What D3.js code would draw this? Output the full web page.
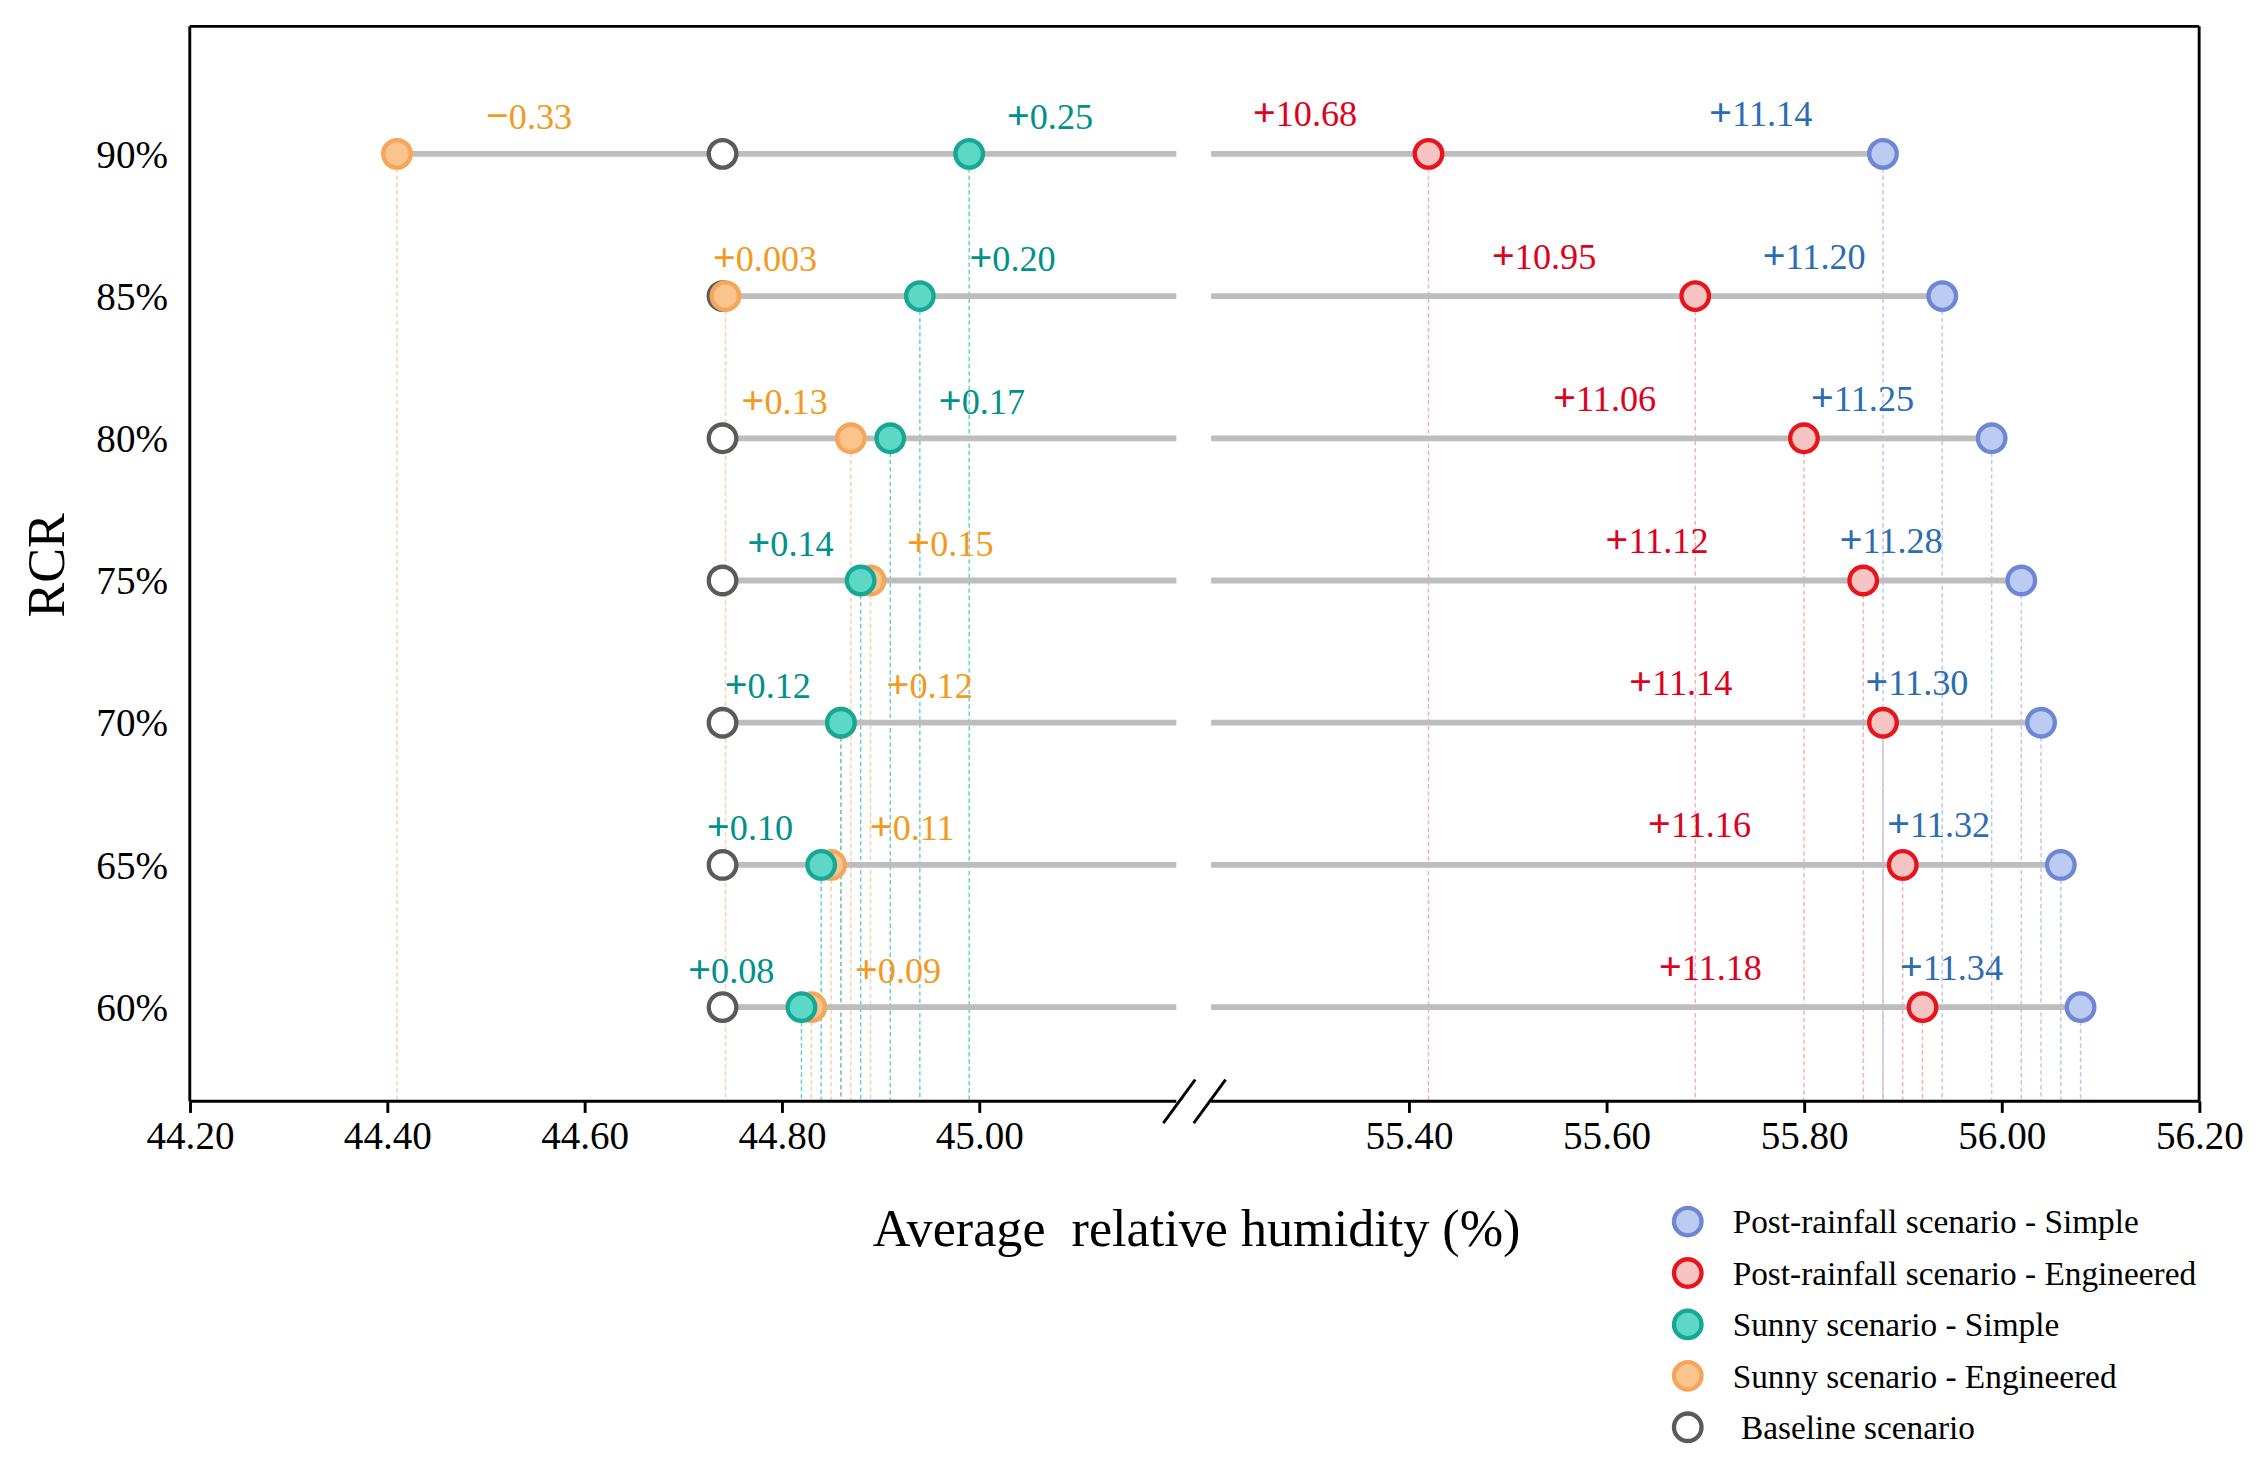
<!DOCTYPE html>
<html><head><meta charset="utf-8">
<script src="https://cdn.jsdelivr.net/npm/d3@7"></script>
<style>body{margin:0;background:#fff}svg{display:block}text{font-family:"Liberation Serif","DejaVu Serif",serif}</style>
</head><body><svg></svg>
<script>
const rcr = ["90%","85%","80%","75%","70%","65%","60%"];
const baseline = [44.74,44.74,44.74,44.74,44.74,44.74,44.74];
const sunnyEng = [44.41,44.743,44.87,44.89,44.86,44.85,44.83];
const sunnySimple = [44.99,44.94,44.91,44.88,44.86,44.84,44.82];
const postEng = [55.42,55.69,55.80,55.86,55.88,55.90,55.92];
const postSimple = [55.88,55.94,55.99,56.02,56.04,56.06,56.08];
const lblSunnyEng = ["−0.33","+0.003","+0.13","+0.15","+0.12","+0.11","+0.09"];
const lblSunnySimple = ["+0.25","+0.20","+0.17","+0.14","+0.12","+0.10","+0.08"];
const lblPostEng = ["+10.68","+10.95","+11.06","+11.12","+11.14","+11.16","+11.18"];
const lblPostSimple = ["+11.14","+11.20","+11.25","+11.28","+11.30","+11.32","+11.34"];
// label anchor positions in axis units
const posSunnyEng = [44.50,44.730,44.759,44.927,44.906,44.889,44.874];
const posSunnySimple = [45.028,44.990,44.959,44.765,44.742,44.724,44.705];
const posPostEng = [55.242,55.484,55.546,55.599,55.623,55.642,55.653];
const posPostSimple = [55.704,55.758,55.807,55.836,55.862,55.884,55.897];
const leftTicks = [44.2,44.4,44.6,44.8,45.0];
const rightTicks = [55.4,55.6,55.8,56.0,56.2];

const svg = d3.select("svg").attr("width",2260).attr("height",1458).attr("viewBox","0 0 1560 1006");
const L=131,R=1518,T=18,B=760;
const xl = d3.scaleLinear().domain([44.2,45.2]).range([L,812]);
const xr = d3.scaleLinear().domain([55.2,56.2]).range([836,R]);
const x = v => v < 50 ? xl(v) : xr(v);
const y = d3.scalePoint().domain(rcr).range([106,695]);

const series = [
  {vals:baseline, fill:"#fff", stroke:"#5a5a5a"},
  {vals:sunnyEng, fill:"#f9c48e", stroke:"#f6a55a", line:"#f9c48e", lbl:lblSunnyEng, pos:posSunnyEng, tc:"#f39a1e", dy:-17},
  {vals:sunnySimple, fill:"#5ed8c6", stroke:"#17a795", line:"#3cc6b4", lbl:lblSunnySimple, pos:posSunnySimple, tc:"#00918a", dy:-17},
  {vals:postEng, fill:"#f7c4c4", stroke:"#e8141c", line:"#f2a0a0", lbl:lblPostEng, pos:posPostEng, tc:"#e0001b", dy:-19},
  {vals:postSimple, fill:"#bccbf2", stroke:"#6f86d6", line:"#aab8ee", lbl:lblPostSimple, pos:posPostSimple, tc:"#2b6cb3", dy:-19}
];

series.slice(1).forEach(s=>{
  svg.append("g").selectAll("line").data(s.vals).join("line")
    .attr("x1",d=>x(d)).attr("x2",d=>x(d)).attr("y1",(d,i)=>y(rcr[i])).attr("y2",B)
    .attr("stroke",s.line).attr("stroke-width",1).attr("stroke-dasharray","3,2").attr("opacity",0.8);
});

const g = svg.append("g");
rcr.forEach((r,i)=>{
  g.append("line").attr("x1",x(Math.min(baseline[i],sunnyEng[i]))).attr("x2",xl(45.2))
   .attr("y1",y(r)).attr("y2",y(r)).attr("stroke","#bdbdbd").attr("stroke-width",4);
  g.append("line").attr("x1",xr(55.2)).attr("x2",x(postSimple[i]))
   .attr("y1",y(r)).attr("y2",y(r)).attr("stroke","#bdbdbd").attr("stroke-width",4);
});

series.forEach(s=>{
  svg.append("g").selectAll("circle").data(s.vals).join("circle")
    .attr("cx",d=>x(d)).attr("cy",(d,i)=>y(rcr[i])).attr("r",9.5)
    .attr("fill",s.fill).attr("stroke",s.stroke).attr("stroke-width",3);
});

series.slice(1).forEach(s=>{
  const t = svg.append("g").selectAll("text").data(s.lbl).join("text")
    .attr("x",(d,i)=>x(s.pos[i])).attr("y",(d,i)=>y(rcr[i])+s.dy)
    .attr("fill",s.tc).attr("font-size",25);
  t.append("tspan").attr("font-weight","bold").attr("font-size",28).text(d=>d[0]);
  t.append("tspan").text(d=>d.slice(1));
});

const ax = svg.append("g").attr("stroke","#000").attr("stroke-width",2);
ax.append("line").attr("x1",L).attr("x2",R).attr("y1",T).attr("y2",T);
ax.append("line").attr("x1",L).attr("x2",L).attr("y1",T).attr("y2",B);
ax.append("line").attr("x1",R).attr("x2",R).attr("y1",T).attr("y2",B);
ax.append("line").attr("x1",L).attr("x2",812).attr("y1",B).attr("y2",B);
ax.append("line").attr("x1",836).attr("x2",R).attr("y1",B).attr("y2",B);
ax.append("line").attr("x1",803).attr("x2",825).attr("y1",775).attr("y2",745);
ax.append("line").attr("x1",824).attr("x2",846).attr("y1",775).attr("y2",745);

const fmt = d3.format(".2f");
svg.append("g").attr("transform",`translate(0,${B})`).call(d3.axisBottom(xl).tickValues(leftTicks).tickFormat(fmt).tickSize(8).tickSizeOuter(0));
svg.append("g").attr("transform",`translate(0,${B})`).call(d3.axisBottom(xr).tickValues(rightTicks).tickFormat(fmt).tickSize(8).tickSizeOuter(0));
svg.selectAll(".domain").remove();
svg.selectAll(".tick line").attr("stroke","#000").attr("stroke-width",2);
svg.selectAll(".tick text").style("font-size","27px").style("font-family","'Liberation Serif', serif").attr("dy",22).attr("fill","#000");

svg.append("g").selectAll("text").data(rcr).join("text")
  .attr("x",116).attr("y",d=>y(d)).attr("dy","0.35em").attr("text-anchor","end")
  .attr("font-size",27).text(d=>d);

svg.append("text").attr("transform","translate(44,390) rotate(-90)").attr("text-anchor","middle")
  .attr("font-size",36).text("RCR");
svg.append("text").attr("x",826).attr("y",860).attr("text-anchor","middle").attr("font-size",36)
  .attr("xml:space","preserve").text("Average  relative humidity (%)");

const legend = [
  {name:"Post-rainfall scenario - Simple", s:series[4]},
  {name:"Post-rainfall scenario - Engineered", s:series[3]},
  {name:"Sunny scenario - Simple", s:series[2]},
  {name:"Sunny scenario - Engineered", s:series[1]},
  {name:" Baseline scenario", s:series[0]}
];
const lg = svg.append("g").selectAll("g").data(legend).join("g")
  .attr("transform",(d,i)=>`translate(1165,${843+i*35.5})`);
lg.append("circle").attr("r",9.5).attr("fill",d=>d.s.fill).attr("stroke",d=>d.s.stroke).attr("stroke-width",3);
lg.append("text").attr("x",31).attr("dy","0.35em").attr("font-size",23).attr("xml:space","preserve").text(d=>d.name);
</script></body></html>
